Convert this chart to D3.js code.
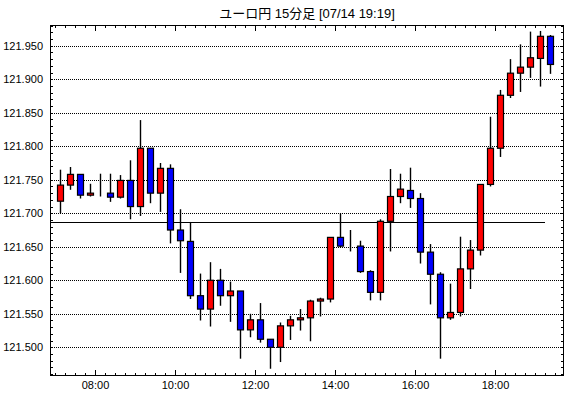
<!DOCTYPE html>
<html>
<head>
<meta charset="utf-8">
<script src="https://cdn.jsdelivr.net/npm/d3@7"></script>
<style>
  body { margin: 0; background: #fff; }
  svg { display: block; }
  text { font-family: "Liberation Sans", Arial, sans-serif; fill: #000; }
</style>
</head>
<body>
<div id="chart"></div>
<script>
// chart data (15 minute candles, first one at 07:00)
const title = "ユーロ円 15分足 [07/14 19:19]";
const startMinute = 420;   // 07:00
const stepMinute = 15;

const open = [121.718,121.742,121.758,121.727,121.730,121.730,121.724,121.749,121.710,121.797,
  121.730,121.767,121.675,121.658,121.577,121.557,121.600,121.577,121.584,121.526,
  121.541,121.512,121.500,121.532,121.541,121.544,121.569,121.572,121.664,121.651,
  121.651,121.613,121.582,121.688,121.725,121.734,121.722,121.642,121.609,121.544,
  121.552,121.617,121.645,121.743,121.797,121.876,121.909,121.918,121.931,121.964];

const high = [121.765,121.769,121.758,121.744,121.759,121.759,121.757,121.779,121.839,121.797,
  121.775,121.773,121.706,121.687,121.610,121.627,121.617,121.598,121.584,121.550,
  121.566,121.512,121.537,121.547,121.557,121.571,121.574,121.664,121.700,121.675,
  121.659,121.615,121.691,121.766,121.759,121.768,121.730,121.654,121.612,121.595,
  121.665,121.660,121.743,121.844,121.884,121.930,121.952,121.971,121.972,121.966];

const low = [121.700,121.735,121.722,121.725,121.725,121.717,121.722,121.691,121.696,121.715,
  121.702,121.655,121.611,121.572,121.540,121.531,121.562,121.538,121.483,121.515,
  121.507,121.468,121.478,121.511,121.525,121.509,121.546,121.567,121.649,121.643,
  121.611,121.570,121.570,121.643,121.715,121.708,121.625,121.564,121.483,121.541,
  121.546,121.587,121.637,121.740,121.784,121.872,121.881,121.902,121.889,121.908];

const close = [121.742,121.758,121.727,121.730,121.730,121.724,121.749,121.710,121.797,121.730,
  121.767,121.675,121.659,121.577,121.557,121.600,121.577,121.584,121.526,121.541,
  121.512,121.500,121.532,121.541,121.544,121.569,121.572,121.664,121.651,121.651,
  121.613,121.582,121.688,121.725,121.736,121.722,121.642,121.609,121.544,121.552,
  121.617,121.645,121.743,121.797,121.876,121.909,121.918,121.932,121.964,121.922];

const prevClose = 121.687;
const prevCloseEnd = 1155; // 19:15

const yLabels = [121.500,121.550,121.600,121.650,121.700,121.750,121.800,121.850,121.900,121.950];
const xLabels = ["08:00","10:00","12:00","14:00","16:00","18:00"];

// layout
const width = 570, height = 398;
const plot = { left: 50, right: 564, top: 25, bottom: 376 };

const candles = open.map((o, i) => ({
  t: startMinute + i * stepMinute,
  o: o, h: high[i], l: low[i], c: close[i]
}));

const toMin = s => +s.slice(0, 2) * 60 + +s.slice(3);

const x = d3.scaleLinear()
  .domain([412.5, 1183.5])
  .range([plot.left, plot.right]);

const y = d3.scaleLinear()
  .domain([121.500, 121.950])
  .range([347.3, 45.7]);

const svg = d3.select("#chart").append("svg")
  .attr("width", width)
  .attr("height", height);

svg.append("text")
  .attr("x", (plot.left + plot.right) / 2)
  .attr("y", 18)
  .attr("text-anchor", "middle")
  .style("font-family", "'Liberation Sans', 'Noto Sans CJK JP', sans-serif")
  .style("font-size", "13px")
  .text(title);

const pw = plot.right - plot.left, ph = plot.bottom - plot.top;

// dotted grid
const grid = svg.append("g")
  .attr("transform", `translate(${plot.left},0)`)
  .call(d3.axisLeft(y).tickValues(yLabels).tickSize(-pw).tickFormat(""));
grid.select(".domain").remove();
grid.selectAll("line")
  .attr("stroke", "#000")
  .attr("stroke-dasharray", "1,1")
  .attr("shape-rendering", "crispEdges");

// y labels
const yLab = svg.append("g")
  .attr("transform", `translate(${plot.left - 7},0)`)
  .call(d3.axisLeft(y).tickValues(yLabels).tickSize(0).tickPadding(0).tickFormat(d3.format(".3f")));
yLab.select(".domain").remove();
yLab.selectAll("text").style("font-size", "11px").attr("fill", "#000");

// minor ticks on the y edges (every 0.010)
const yMinor = d3.range(46, 99).map(k => 121 + k / 100);
const yl = svg.append("g")
  .attr("transform", `translate(${plot.left},0)`)
  .call(d3.axisLeft(y).tickValues(yMinor).tickSize(-3).tickFormat(""));
const yr = svg.append("g")
  .attr("transform", `translate(${plot.right},0)`)
  .call(d3.axisRight(y).tickValues(yMinor).tickSize(-3).tickFormat(""));
[yl, yr].forEach(g => {
  g.select(".domain").remove();
  g.selectAll("line").attr("shape-rendering", "crispEdges");
});

// x ticks on top and bottom edges
const xMinor = d3.range(420, 1184, 15);
const xMajor = xLabels.map(toMin);
function xTicks(pos, bottom) {
  const mk = bottom ? d3.axisBottom : d3.axisTop;
  const g1 = svg.append("g").attr("transform", `translate(0,${pos})`)
    .call(mk(x).tickValues(xMinor).tickSize(-3).tickFormat(""));
  const g2 = svg.append("g").attr("transform", `translate(0,${pos})`)
    .call(mk(x).tickValues(xMajor).tickSize(-6).tickFormat(""));
  [g1, g2].forEach(g => {
    g.select(".domain").remove();
    g.selectAll("line").attr("shape-rendering", "crispEdges");
  });
}
xTicks(plot.bottom, true);
xTicks(plot.top, false);

// x labels
const xLab = svg.append("g")
  .attr("transform", `translate(0,${plot.bottom})`)
  .call(d3.axisBottom(x).tickValues(xMajor).tickSize(0).tickPadding(5)
    .tickFormat((d, i) => xLabels[i]));
xLab.select(".domain").remove();
xLab.selectAll("text").style("font-size", "11px").attr("fill", "#000");

// previous close line
svg.append("line")
  .attr("x1", plot.left)
  .attr("x2", x(prevCloseEnd))
  .attr("y1", Math.round(y(prevClose)) + 0.5)
  .attr("y2", Math.round(y(prevClose)) + 0.5)
  .attr("stroke", "#000")
  .attr("stroke-width", 1.2);

// candles
const cg = svg.append("g");
const cx = d => Math.round(x(d.t + stepMinute / 2));

cg.selectAll(".wick")
  .data(candles)
  .enter()
  .append("line")
  .attr("class", "wick")
  .attr("x1", d => cx(d) + 0.5)
  .attr("x2", d => cx(d) + 0.5)
  .attr("y1", d => y(d.h))
  .attr("y2", d => y(d.l))
  .attr("stroke", "#000")
  .attr("stroke-width", 1.4);

cg.selectAll(".body")
  .data(candles)
  .enter()
  .append("rect")
  .attr("class", "body")
  .attr("x", d => cx(d) - 2.5)
  .attr("width", 6)
  .attr("y", d => y(Math.max(d.o, d.c)))
  .attr("height", d => Math.abs(y(d.o) - y(d.c)))
  .attr("fill", d => d.c > d.o ? "#ff0000" : (d.c < d.o ? "#0000ff" : "#000"))
  .attr("stroke", "#000")
  .attr("stroke-width", 1.2);

// frame
svg.append("rect")
  .attr("x", plot.left + 0.5)
  .attr("y", plot.top + 0.5)
  .attr("width", pw - 1)
  .attr("height", ph - 1)
  .attr("fill", "none")
  .attr("stroke", "#000")
  .attr("shape-rendering", "crispEdges");
</script>
</body>
</html>
